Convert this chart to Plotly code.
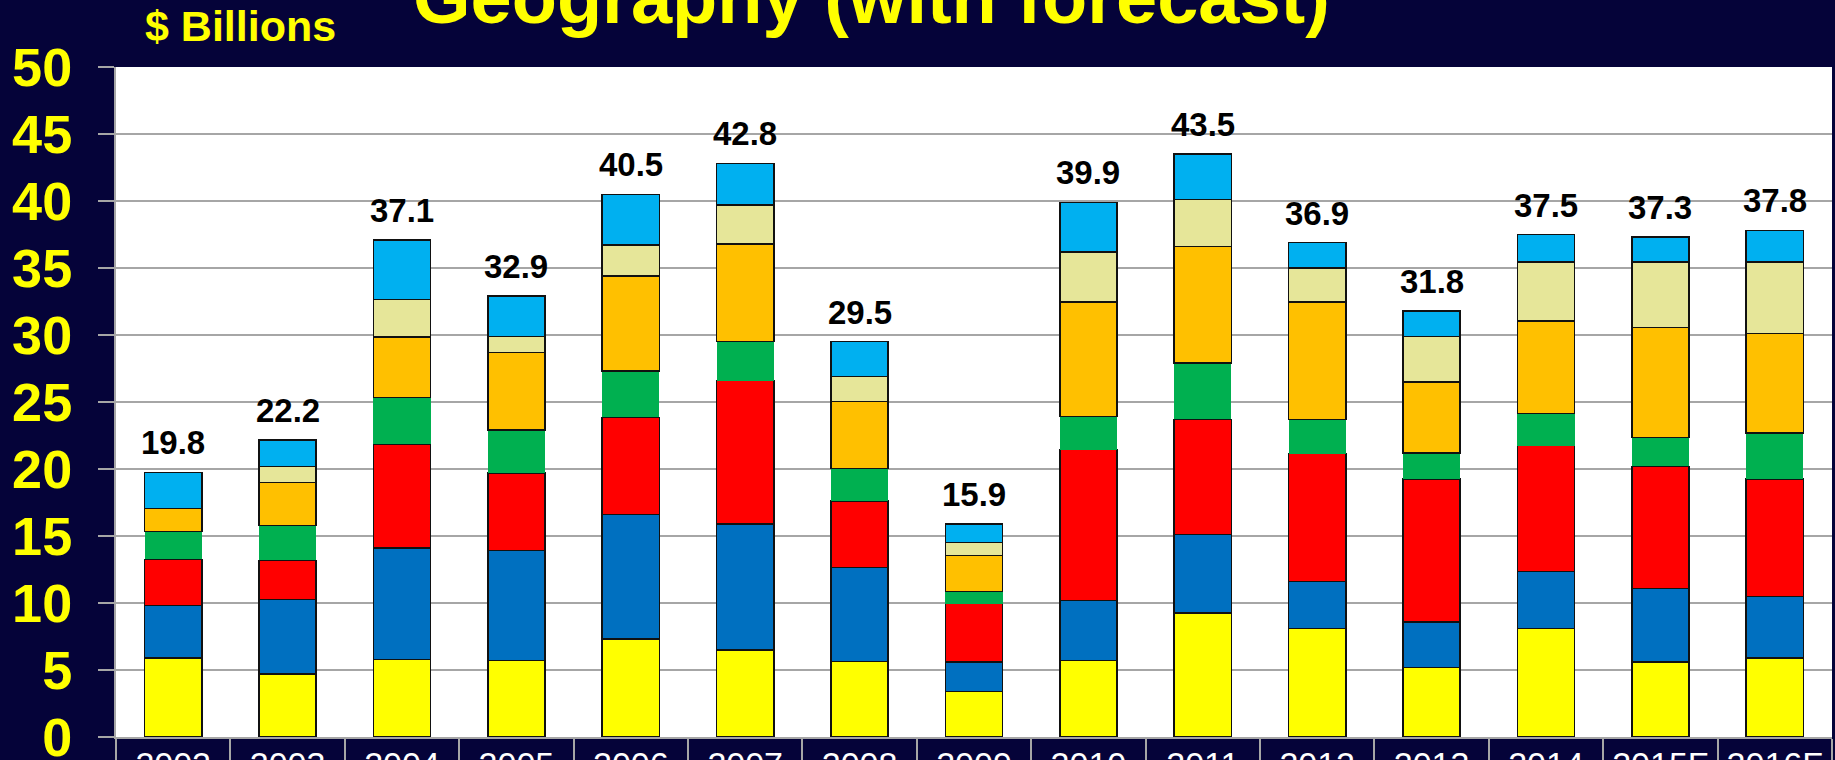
import plotly.graph_objects as go

years = ["2002", "2003", "2004", "2005", "2006", "2007", "2008", "2009",
         "2010", "2011", "2012", "2013", "2014", "2015F", "2016F"]
totals = [19.8, 22.2, 37.1, 32.9, 40.5, 42.8, 29.5, 15.9,
          39.9, 43.5, 36.9, 31.8, 37.5, 37.3, 37.8]

s_yellow = [5.9, 4.7, 5.8, 5.7, 7.3, 6.5, 5.65, 3.4, 5.7, 9.25, 8.1, 5.2, 8.1, 5.6, 5.9]
s_blue = [3.9, 5.55, 8.3, 8.2, 9.3, 9.4, 7.0, 2.2, 4.5, 5.85, 3.5, 3.4, 4.25, 5.5, 4.6]
s_red = [3.45, 2.93, 7.75, 5.8, 7.25, 10.7, 4.95, 4.35, 11.25, 8.6, 9.55, 10.65, 9.4, 9.1, 8.75]
s_green = [2.1, 2.6, 3.5, 3.2, 3.45, 2.9, 2.45, 0.9, 2.45, 4.2, 2.55, 1.95, 2.4, 2.15, 3.45]
s_orange = [1.7, 3.2, 4.5, 5.8, 7.1, 7.3, 5.0, 2.7, 8.55, 8.7, 8.75, 5.3, 6.9, 8.2, 7.4]
s_khaki = [0.0, 1.2, 2.8, 1.2, 2.3, 2.9, 1.85, 0.95, 3.75, 3.5, 2.55, 3.4, 4.4, 4.9, 5.35]
s_lblue = [2.7, 2.0, 4.45, 3.0, 3.8, 3.1, 2.6, 1.4, 3.7, 3.4, 1.9, 1.9, 2.05, 1.85, 2.35]

ytick_vals = [0, 5, 10, 15, 20, 25, 30, 35, 40, 45, 50]
ytick_text = [str(v) for v in ytick_vals]

series = [
    (s_yellow, "#FFFF00", 1.5),
    (s_blue, "#0070C0", 1.5),
    (s_red, "#FF0000", 1.5),
    (s_green, "#00B050", 0),
    (s_orange, "#FFC000", 1.5),
    (s_khaki, "#E6E699", 1.5),
    (s_lblue, "#00B0F0", 1.5),
]

BG = "#050339"
GRID = "#A6A6A6"
FONT = "Liberation Sans, Arial"

fig = go.Figure()
for vals, col, lw in series:
    fig.add_trace(go.Bar(
        x=years, y=vals, marker=dict(color=col, line=dict(color="#111111", width=lw)),
        hoverinfo="skip",
    ))

for i, t in enumerate(totals):
    fig.add_annotation(x=i, y=t, text="%.1f" % t, showarrow=False,
                       yanchor="bottom", yshift=9,
                       font=dict(family=FONT, size=33, color="black", weight="bold"))

fig.add_annotation(text="Geography (with forecast)", xref="paper", yref="paper",
                   x=0.44, y=1.104, xanchor="center", yanchor="middle", showarrow=False,
                   font=dict(family=FONT, size=74, color="#FFFF00", weight="bold"))
fig.add_annotation(text="$ Billions", xref="paper", yref="paper",
                   x=(143 - 116) / 1716, y=1 + (67 - 26) / 670, xanchor="left", yanchor="middle",
                   showarrow=False,
                   font=dict(family=FONT, size=43, color="#FFFF00", weight="bold"))

fig.update_layout(
    width=1835, height=760,
    margin=dict(l=116, r=3, t=67, b=23, autoexpand=False),
    paper_bgcolor=BG, plot_bgcolor="white",
    barmode="stack", bargap=0.5, showlegend=False,
    xaxis=dict(type="category", tickson="boundaries", ticks="outside", ticklen=40,
               tickcolor=GRID, tickwidth=2, showline=True, linecolor=GRID, linewidth=2,
               showgrid=False, ticklabelstandoff=-4, tickangle=0, automargin=False,
               ticklabeloverflow="allow",
               tickfont=dict(family=FONT, size=34, color="white")),
    yaxis=dict(range=[0, 50], tickvals=ytick_vals, ticktext=ytick_text,
               ticks="outside", ticklen=16, tickcolor=GRID, tickwidth=2,
               showline=True, linecolor=GRID, linewidth=2, automargin=False,
               showgrid=True, gridcolor=GRID, gridwidth=2, zeroline=False,
               ticklabelstandoff=15, ticklabeloverflow="allow",
               tickfont=dict(family=FONT, size=54, color="#FFFF00", weight="bold")),
)

fig.write_html("out.html", config={"displayModeBar": False},
               post_script="document.body.style.margin='0';")
